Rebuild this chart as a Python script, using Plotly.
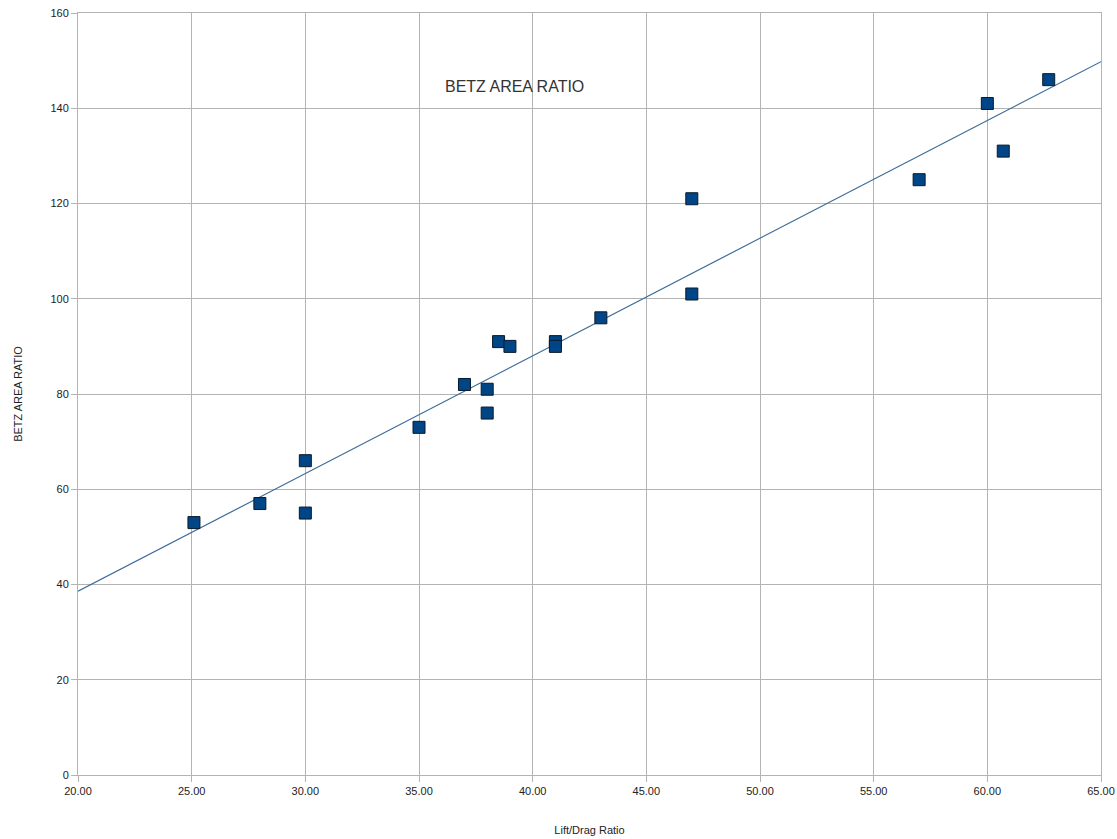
import numpy as np
import plotly.graph_objects as go

lift_drag = [25.1, 28, 30, 30, 35, 37, 38, 38, 38.5, 39, 41, 41, 43, 47, 47, 57, 60, 60.7, 62.7]
betz_ratio = [53, 57, 66, 55, 73, 82, 81, 76, 91, 90, 91, 90, 96, 121, 101, 125, 141, 131, 146]
x_ticks = [20, 25, 30, 35, 40, 45, 50, 55, 60, 65]
y_ticks = [0, 20, 40, 60, 80, 100, 120, 140, 160]

slope, intercept = np.polyfit(lift_drag, betz_ratio, 1)
trend_x = [20, 65]
trend_y = [slope * v + intercept for v in trend_x]

fig = go.Figure()
fig.add_trace(go.Scatter(x=trend_x, y=trend_y, mode="lines",
                         line=dict(color="#3b6b9a", width=1.2), showlegend=False, hoverinfo="skip"))
fig.add_trace(go.Scatter(x=lift_drag, y=betz_ratio, mode="markers",
                         marker=dict(symbol="square", size=12, color="#004586",
                                     line=dict(color="#0a1a2a", width=1)),
                         showlegend=False))

fig.add_annotation(text="BETZ AREA RATIO", x=39.2, y=144.6, xref="x", yref="y",
                   showarrow=False, font=dict(size=16, color="#333333"))

axis_common = dict(showgrid=True, gridcolor="#b3b3b3", gridwidth=1, showline=True,
                   linecolor="#b3b3b3", linewidth=1, ticks="outside", ticklen=6,
                   tickcolor="#b3b3b3", zeroline=False, automargin=False,
                   ticklabeloverflow="allow",
                   tickfont=dict(family="Liberation Sans, Arial", size=11, color="#222222"))

fig.update_xaxes(range=[20, 65], tickvals=x_ticks, ticktext=[f"{v:.2f}" for v in x_ticks],
                 title=dict(text="Lift/Drag Ratio", font=dict(family="Liberation Sans, Arial", size=11, color="#222222"), standoff=30),
                 mirror=True, **axis_common)
fig.update_yaxes(range=[0, 160], tickvals=y_ticks,
                 title=dict(text="BETZ AREA RATIO", font=dict(family="Liberation Sans, Arial", size=11, color="#222222"), standoff=25),
                 mirror=True, **axis_common)

fig.update_layout(width=1117, height=839, paper_bgcolor="white", plot_bgcolor="white",
                  margin=dict(l=78, r=16, t=13, b=64),
                  font=dict(family="Liberation Sans, Arial"))

fig.write_html("out.html")
